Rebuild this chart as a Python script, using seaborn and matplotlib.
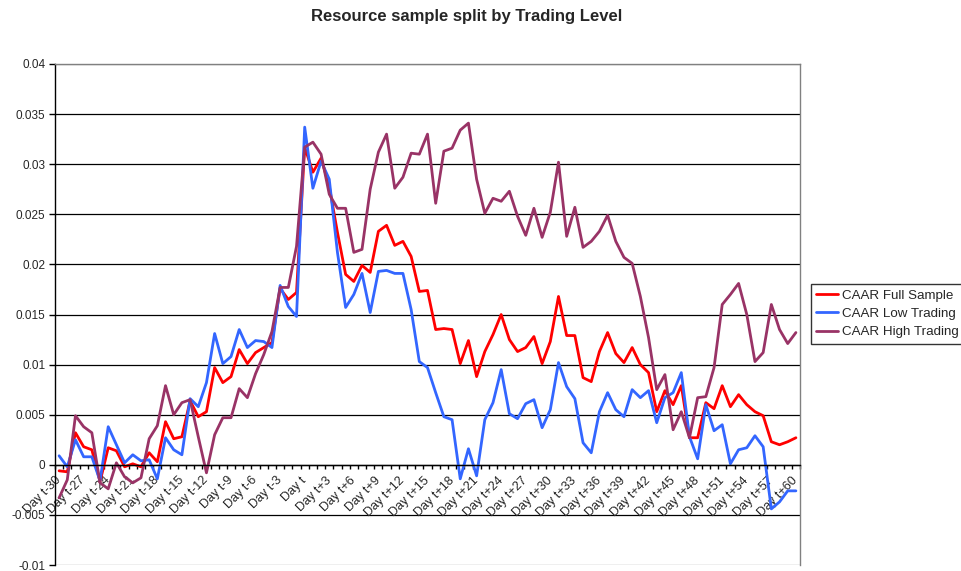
import numpy as np
import pandas as pd
import matplotlib
matplotlib.use('Agg')
import matplotlib.pyplot as plt
import seaborn as sns

# event days t-30 .. t+60
days = list(range(-30, 61))
day_labels = ['Day t' if d == 0 else 'Day t%+d' % d for d in days]

full_sample = [
    -0.0006, -0.0007, 0.0032, 0.0018, 0.0015, -0.0017, 0.0017, 0.0014, -0.0002, 0.0001,
    -0.0002, 0.0012, 0.0003, 0.0043, 0.0026, 0.0028, 0.0064, 0.0048, 0.0053, 0.0097,
    0.0082, 0.0088, 0.0115, 0.0101, 0.0112, 0.0117, 0.0122, 0.0176, 0.0165, 0.0172,
    0.0317, 0.0292, 0.0306, 0.0278, 0.0232, 0.0190, 0.0183, 0.0199, 0.0192, 0.0233,
    0.0239, 0.0219, 0.0223, 0.0208, 0.0173, 0.0174, 0.0135, 0.0136, 0.0135, 0.0101,
    0.0124, 0.0088, 0.0113, 0.0130, 0.0150, 0.0125, 0.0113, 0.0117, 0.0128, 0.0101,
    0.0123, 0.0168, 0.0129, 0.0129, 0.0087, 0.0083, 0.0113, 0.0132, 0.0111, 0.0102,
    0.0117, 0.0100, 0.0092, 0.0053, 0.0074, 0.0060, 0.0079, 0.0027, 0.0027, 0.0062,
    0.0056, 0.0079, 0.0058, 0.0070, 0.0060, 0.0053, 0.0049, 0.0023, 0.0020, 0.0023,
    0.0027]

low_trading = [
    0.0009, -0.0002, 0.0025, 0.0008, 0.0008, -0.0016, 0.0038, 0.0020, 0.0002, 0.0010,
    0.0004, 0.0005, -0.0014, 0.0027, 0.0015, 0.0010, 0.0066, 0.0058, 0.0082, 0.0131,
    0.0101, 0.0108, 0.0135, 0.0117, 0.0124, 0.0123, 0.0117, 0.0179, 0.0158, 0.0148,
    0.0337, 0.0276, 0.0303, 0.0285, 0.0212, 0.0157, 0.0170, 0.0191, 0.0152, 0.0193,
    0.0194, 0.0191, 0.0191, 0.0155, 0.0103, 0.0097, 0.0072, 0.0048, 0.0045, -0.0014,
    0.0016, -0.0011, 0.0045, 0.0062, 0.0095, 0.0051, 0.0046, 0.0061, 0.0065, 0.0037,
    0.0055, 0.0102, 0.0078, 0.0066, 0.0022, 0.0012, 0.0053, 0.0072, 0.0055, 0.0048,
    0.0075, 0.0067, 0.0074, 0.0042, 0.0067, 0.0072, 0.0092, 0.0028, 0.0006, 0.0060,
    0.0034, 0.0040, 0.0001, 0.0015, 0.0017, 0.0029, 0.0018, -0.0044, -0.0037, -0.0026,
    -0.0026]

high_trading = [
    -0.0033, -0.0015, 0.0049, 0.0038, 0.0032, -0.0018, -0.0024, 0.0002, -0.0012, -0.0018,
    -0.0013, 0.0026, 0.0039, 0.0079, 0.0050, 0.0062, 0.0065, 0.0028, -0.0008, 0.0030,
    0.0047, 0.0047, 0.0076, 0.0067, 0.0091, 0.0110, 0.0133, 0.0177, 0.0177, 0.0218,
    0.0317, 0.0322, 0.0310, 0.0270, 0.0256, 0.0256, 0.0212, 0.0215, 0.0275, 0.0312,
    0.0330, 0.0276, 0.0287, 0.0311, 0.0310, 0.0330, 0.0261, 0.0313, 0.0316, 0.0334,
    0.0341, 0.0285, 0.0251, 0.0266, 0.0263, 0.0273, 0.0248, 0.0229, 0.0256, 0.0227,
    0.0252, 0.0302, 0.0228, 0.0257, 0.0217, 0.0223, 0.0233, 0.0249, 0.0223, 0.0207,
    0.0201, 0.0168, 0.0127, 0.0075, 0.0090, 0.0035, 0.0053, 0.0027, 0.0067, 0.0068,
    0.0097, 0.0160, 0.0170, 0.0181, 0.0150, 0.0103, 0.0112, 0.0160, 0.0135, 0.0121,
    0.0132]

series_names = ['CAAR Full Sample', 'CAAR Low Trading', 'CAAR High Trading']
colors = ['#FF0000', '#3366FF', '#993366']

y_ticks = [-0.01, -0.005, 0, 0.005, 0.01, 0.015, 0.02, 0.025, 0.03, 0.035, 0.04]
y_tick_labels = ['-0.01', '-0.005', '0', '0.005', '0.01', '0.015', '0.02',
                 '0.025', '0.03', '0.035', '0.04']

pos = np.arange(len(days))
df = pd.concat([
    pd.DataFrame({'pos': pos, 'value': vals, 'series': name})
    for name, vals in zip(series_names, [full_sample, low_trading, high_trading])
])

sns.set_style('white')
plt.rcParams['font.family'] = ['Liberation Sans', 'DejaVu Sans']

fig = plt.figure(figsize=(9.61, 5.71), dpi=100)
ax = fig.add_axes([55 / 961, 1 - 565 / 571, 745 / 961, 501 / 571])

for y in y_ticks:
    ax.axhline(y, color='black' if -0.01 < y < 0.04 else '#808080', lw=0.9, zorder=0)

sns.lineplot(data=df, x='pos', y='value', hue='series', palette=colors,
             hue_order=series_names, linewidth=2, ax=ax, legend=False)

# category axis crosses at zero (spine move resets ticks, so do it first)
ax.spines['bottom'].set_position(('data', 0))
ax.spines['bottom'].set_color('black')
ax.spines['left'].set_color('black')
for s in ['top', 'right']:
    ax.spines[s].set_color('#808080')
for s in ax.spines.values():
    s.set_linewidth(1)

ax.set_xlim(-0.5, len(days) - 0.5)
ax.set_ylim(-0.01, 0.04)
ax.set_xlabel('')
ax.set_ylabel('')

ax.set_yticks(y_ticks)
ax.set_yticklabels(y_tick_labels, fontsize=8.5)
ax.tick_params(axis='y', direction='out', length=4, width=1, color='black', pad=3, left=True)

label_pos = pos[::3]
ax.set_xticks(label_pos)
ax.set_xticks(np.arange(-0.5, len(days), 1), minor=True)
ax.tick_params(axis='x', which='major', length=0, pad=10)
ax.tick_params(axis='x', which='minor', direction='out', length=3, width=1,
               color='black', bottom=True)
ax.set_xticklabels([day_labels[i] for i in label_pos], rotation=45, ha='right',
                   va='center', rotation_mode='anchor', fontsize=9)

fig.text(0.486, 1 - 17 / 571, 'Resource sample split by Trading Level',
         ha='center', va='center', fontsize=12, fontweight='bold')

handles = [plt.Line2D([], [], color=c, lw=2) for c in colors]
leg = fig.legend(handles, series_names, loc='center left',
                 bbox_to_anchor=(811 / 961, 1 - 314 / 571), fontsize=9.6,
                 frameon=True, fancybox=False, handlelength=1.6, borderpad=0.4,
                 labelspacing=0.45, handletextpad=0.3, borderaxespad=0)
leg.get_frame().set_edgecolor('black')
leg.get_frame().set_linewidth(1)

fig.savefig('out.png', dpi=100)
